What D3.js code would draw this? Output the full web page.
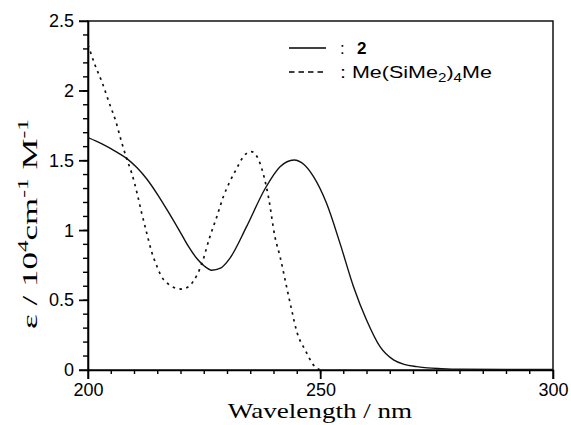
<!DOCTYPE html>
<html>
<head>
<meta charset="utf-8">
<script src="https://cdn.jsdelivr.net/npm/d3@7"></script>
<style>
  body { margin: 0; background: #fff; }
  svg { display: block; }
</style>
</head>
<body>
<div id="chart"></div>
<script>
// compound 2 (solid)
var wl2 = [200, 203, 206, 208.3, 210.5, 212.6, 215, 217.5, 219.8, 221.6, 223.5, 225, 226.6, 228.5, 230.5, 234.1, 238.1, 241.3, 244.3, 246.5, 248.5, 251.3, 254.2, 257.1, 259.9, 262.8, 265.7, 268, 270.7, 273, 276, 280, 290, 300];
var eps2 = [1.665, 1.62, 1.565, 1.516, 1.45, 1.37, 1.255, 1.12, 0.99, 0.885, 0.795, 0.745, 0.715, 0.73, 0.80, 1.027, 1.30, 1.456, 1.504, 1.47, 1.385, 1.194, 0.907, 0.597, 0.358, 0.167, 0.072, 0.04, 0.024, 0.015, 0.01, 0.006, 0.004, 0.004];
// Me(SiMe2)4Me (dashed)
var wl4 = [200, 201.5, 203.1, 204.6, 206, 207.2, 208.3, 209.4, 210.6, 211.5, 212.6, 213.7, 214.8, 215.8, 217.3, 219.1, 220.3, 221.5, 222.6, 224.5, 226.1, 227.7, 229.1, 230.5, 232, 233.4, 235.1, 237, 238.8, 240.2, 241.3, 242.7, 243.8, 244.9, 246.7, 248.8, 250];
var eps4 = [2.33, 2.185, 2.054, 1.91, 1.779, 1.635, 1.516, 1.41, 1.26, 1.13, 0.985, 0.845, 0.745, 0.67, 0.615, 0.585, 0.58, 0.595, 0.633, 0.764, 0.943, 1.098, 1.241, 1.349, 1.445, 1.528, 1.565, 1.48, 1.24, 0.955, 0.812, 0.597, 0.43, 0.275, 0.143, 0.024, 0];

var xMajor = [200, 250, 300];
var yMajor = [0, 0.5, 1, 1.5, 2, 2.5];
var xMinor = d3.range(205, 300, 5);
var yMinor = d3.range(1, 25).map(d => d / 10);

var W = 571, H = 425;
var margin = {top: 21, right: 18, bottom: 55, left: 88};
var iw = W - margin.left - margin.right, ih = H - margin.top - margin.bottom;
var sans = "'Liberation Sans', Arial, sans-serif";
var serif = "'Liberation Serif', 'Times New Roman', serif";

var svg = d3.select("#chart").append("svg").attr("width", W).attr("height", H);
var g = svg.append("g").attr("transform", "translate(" + margin.left + "," + margin.top + ")");

var x = d3.scaleLinear().domain([200, 300]).range([0, iw]);
var y = d3.scaleLinear().domain([0, 2.5]).range([ih, 0]);

// stretch a text group horizontally so it spans a given width
function stretch(grp, target) {
  var bb = grp.node().getBBox();
  var s = target / bb.width;
  grp.attr("transform", grp.attr("transform") + " scale(" + s + ",1)");
}

// tick marks (drawn as plain lines from the scales)
var tk = g.append("g").attr("stroke", "#000").attr("stroke-width", 1.4);
tk.selectAll("line.xmin").data(xMinor).enter().append("line")
  .attr("x1", d => x(d)).attr("x2", d => x(d)).attr("y1", ih).attr("y2", ih + 4);
tk.selectAll("line.xmaj").data(xMajor).enter().append("line")
  .attr("x1", d => x(d)).attr("x2", d => x(d)).attr("y1", ih).attr("y2", ih + 9);
tk.selectAll("line.ymin").data(yMinor).enter().append("line")
  .attr("y1", d => y(d)).attr("y2", d => y(d)).attr("x1", 0).attr("x2", -5);
tk.selectAll("line.ymaj").data(yMajor).enter().append("line")
  .attr("y1", d => y(d)).attr("y2", d => y(d)).attr("x1", 0).attr("x2", -9);

// axes for the labels
var xa = g.append("g").attr("transform", "translate(0," + ih + ")")
  .call(d3.axisBottom(x).tickValues(xMajor).tickSize(9).tickPadding(4).tickFormat(d => String(d)));
var ya = g.append("g")
  .call(d3.axisLeft(y).tickValues(yMajor).tickSize(9).tickPadding(5).tickFormat(d => String(d)));
[xa, ya].forEach(function (a) {
  a.selectAll("text").attr("font-family", sans).attr("font-size", 18).attr("fill", "#000");
  a.select(".domain").attr("stroke", "#000").attr("stroke-width", 1.6);
});

// frame
g.append("rect").attr("width", iw).attr("height", ih)
  .attr("fill", "none").attr("stroke", "#000").attr("stroke-width", 1.4);

g.append("clipPath").attr("id", "clip").append("rect").attr("width", iw).attr("height", ih);

var line = d3.line().x(d => x(d[0])).y(d => y(d[1])).curve(d3.curveMonotoneX);

g.append("path").datum(d3.zip(wl2, eps2))
  .attr("clip-path", "url(#clip)")
  .attr("d", line).attr("fill", "none").attr("stroke", "#111").attr("stroke-width", 1.4);

g.append("path").datum(d3.zip(wl4, eps4))
  .attr("clip-path", "url(#clip)")
  .attr("d", line).attr("fill", "none").attr("stroke", "#111")
  .attr("stroke-width", 1.7).attr("stroke-dasharray", "2.5,4.5");

// legend
var leg = svg.append("g");
leg.append("line").attr("x1", 289).attr("x2", 326).attr("y1", 48).attr("y2", 48)
  .attr("stroke", "#000").attr("stroke-width", 1.4);
leg.append("text").attr("x", 340).attr("y", 54).attr("font-family", sans).attr("font-size", 17).text(":");
leg.append("text").attr("x", 357).attr("y", 54).attr("font-family", sans).attr("font-size", 17)
  .attr("font-weight", "bold").text("2");
leg.append("line").attr("x1", 289).attr("x2", 327).attr("y1", 72).attr("y2", 72)
  .attr("stroke", "#000").attr("stroke-width", 1.6).attr("stroke-dasharray", "5.5,4");
var lt = leg.append("g").attr("transform", "translate(340,78)");
var t2 = lt.append("text").attr("font-family", sans).attr("font-size", 17);
t2.append("tspan").text(": Me(SiMe");
t2.append("tspan").attr("font-size", 12).attr("dy", 4).text("2");
t2.append("tspan").attr("dy", -4).text(")");
t2.append("tspan").attr("font-size", 12).attr("dy", 4).text("4");
t2.append("tspan").attr("dy", -4).text("Me");
stretch(lt, 152);

// x title
var xt = svg.append("g").attr("transform", "translate(320,418)");
xt.append("text").attr("text-anchor", "middle").attr("font-family", serif)
  .attr("font-size", 20).text("Wavelength / nm");
stretch(xt, 185);

// y title
var yt = svg.append("g").attr("transform", "translate(37,224) rotate(-90)");
var yl = yt.append("text").attr("text-anchor", "middle").attr("font-family", serif).attr("font-size", 21);
yl.append("tspan").text("\u03b5 / 10");
yl.append("tspan").attr("font-size", 14).attr("dy", -9).text("4");
yl.append("tspan").attr("dy", 9).text("cm");
yl.append("tspan").attr("font-size", 14).attr("dy", -9).text("-1");
yl.append("tspan").attr("dy", 9).text(" M");
yl.append("tspan").attr("font-size", 14).attr("dy", -9).text("-1");
stretch(yt, 210);
</script>
</body>
</html>
